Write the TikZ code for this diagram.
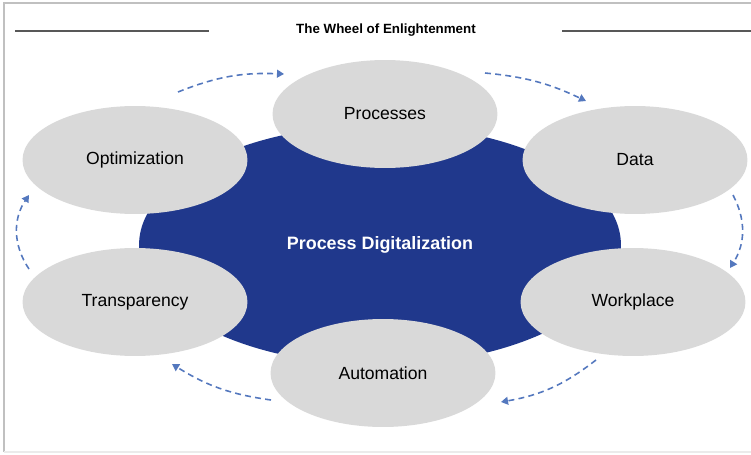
\documentclass[tikz,border=0pt]{standalone}
\usepackage{fontspec}
\setmainfont{Liberation Sans}
\usetikzlibrary{arrows.meta,shapes.geometric}
\definecolor{hubblue}{RGB}{32,56,140}
\definecolor{petalgray}{RGB}{217,217,217}
\definecolor{cyclearrow}{RGB}{84,120,190}
\definecolor{framegray}{RGB}{192,192,192}
\definecolor{rulegray}{RGB}{88,88,88}
\tikzset{
  hub/.style = {ellipse, fill=hubblue, inner sep=0pt, minimum width=9.64cm, minimum height=4.8cm, text=white, font=\bfseries\fontsize{10.2}{12}\selectfont},
  petal/.style = {ellipse, fill=petalgray, inner sep=0pt, minimum width=4.5cm, minimum height=2.16cm, font=\fontsize{10}{12}\selectfont},
  cycle/.style = {-{Triangle[length=4pt,width=4.5pt]}, cyclearrow, line width=0.9pt, dash pattern=on 3.4pt off 2.4pt},
  titlerule/.style = {rulegray, line width=1.1pt},
}

\begin{document}
\begin{tikzpicture}[x=0.02cm, y=0.02cm]
\useasboundingbox (0,0) rectangle (751,454);

% frame
\draw[framegray, line width=1pt] (4,2) -- (4,451) -- (751,451);
\draw[black!8, line width=0.6pt] (4,2) -- (751,2);

% title
\node[font=\bfseries\fontsize{7.6}{9}\selectfont] (title) at (386,424) {The Wheel of Enlightenment};
\draw[titlerule] (15,423) -- (209,423);
\draw[titlerule] (562,423) -- (751,423);

% hub
\node[hub] (core) at (380,209) {Process Digitalization};

% petals
\node[petal] (proc) at (385,340) {Processes};
\node[petal] (data) at (635,294) {Data};
\node[petal] (work) at (633,152) {Workplace};
\node[petal] (auto) at (383,81)  {Automation};
\node[petal] (trans) at (135,152) {Transparency};
\node[petal] (opt) at (135,294) {Optimization};

% cycle arrows
\coordinate (a1s) at (178,362); \coordinate (a1e) at (284,380);
\coordinate (a2s) at (485,381); \coordinate (a2e) at (586,353);
\coordinate (a3s) at (733,259); \coordinate (a3e) at (730,186);
\coordinate (a4s) at (596,94);  \coordinate (a4e) at (501,52);
\coordinate (a5s) at (271,54);  \coordinate (a5e) at (172,90);
\coordinate (a6s) at (29,185);  \coordinate (a6e) at (29,259);
\draw[cycle] (a1s) to[bend left=12] (a1e);
\draw[cycle] (a2s) to[bend left=10] (a2e);
\draw[cycle] (a3s) to[bend left=30] (a3e);
\draw[cycle] (a4s) to[bend left=14] (a4e);
\draw[cycle] (a5s) to[bend left=12] (a5e);
\draw[cycle] (a6s) to[bend left=34] (a6e);

\end{tikzpicture}
\end{document}
